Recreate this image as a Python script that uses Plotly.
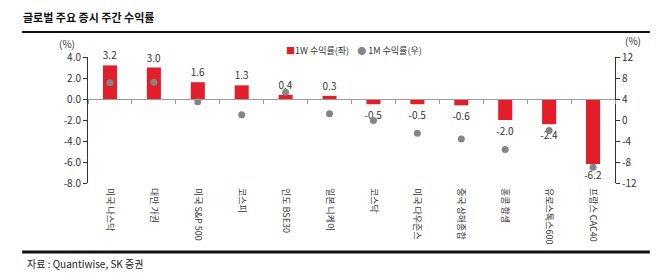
import plotly.graph_objects as go

categories = ["미국 나스닥", "대만 가권", "미국 S&P 500", "코스피", "인도 BSE30", "일본 니케이",
              "코스닥", "미국 다우존스", "중국 상해종합", "홍콩 항셍", "유로스톡스600", "프랑스 CAC40"]
ret_1w = [3.2, 3.0, 1.6, 1.3, 0.4, 0.3, -0.5, -0.5, -0.6, -2.0, -2.4, -6.2]
ret_1m = [7.1, 7.2, 3.5, 1.0, 5.3, 1.2, -0.1, -2.5, -3.6, -5.6, -2.0, -9.0]
left_ticks = [4, 2, 0, -2, -4, -6, -8]
right_ticks = [12, 8, 4, 0, -4, -8, -12]

FONT = "Noto Sans CJK KR"
RED = "#E31E2B"
GRAY = "#858585"
n = len(categories)

fig = go.Figure()
fig.add_trace(go.Bar(
    x=categories, y=ret_1w, name="1W 수익률(좌)",
    marker=dict(color=RED, line=dict(width=0)), width=0.32,
    text=[f"{v:.1f}" for v in ret_1w], textposition="outside", constraintext="none",
    textfont=dict(size=10, color="#333333", family=FONT), cliponaxis=False,
))
fig.add_trace(go.Scatter(
    x=categories, y=ret_1m, name="1M 수익률(우)", mode="markers",
    marker=dict(color=GRAY, size=7), xaxis="x2", yaxis="y2", cliponaxis=False,
))

fig.update_layout(
    width=670, height=279,
    margin=dict(l=88, r=55, t=57, b=96),
    paper_bgcolor="white", plot_bgcolor="white",
    font=dict(family=FONT, size=10, color="#333333"),
    showlegend=False,
    bargap=0.6,
    xaxis=dict(type="category", categoryorder="array", categoryarray=categories,
               range=[-0.5, n - 0.5],
               showline=False, ticks="", showgrid=False, zeroline=False,
               tickangle=90, ticklabelstandoff=4, tickfont=dict(size=9, color="#333333")),
    xaxis2=dict(type="category", categoryorder="array", categoryarray=categories,
                range=[-0.5, n - 0.5],
                overlaying="x", anchor="free", position=8/12,
                showline=True, linecolor="#9a9a9a", linewidth=1,
                ticks="outside", tickson="boundaries", ticklen=4, tickcolor="#9a9a9a",
                showticklabels=False, showgrid=False, zeroline=False),
    yaxis=dict(range=[-8, 4], tickvals=left_ticks,
               ticktext=[f"{v:.1f}" for v in left_ticks],
               showline=True, linecolor="#333333", linewidth=1,
               ticks="outside", ticklen=4, tickcolor="#333333",
               showgrid=False, zeroline=False, tickfont=dict(size=10)),
    yaxis2=dict(range=[-12, 12], tickvals=right_ticks,
                ticktext=[str(v) for v in right_ticks],
                overlaying="y", side="right",
                showline=True, linecolor="#333333", linewidth=1,
                ticks="outside", ticklen=4, tickcolor="#333333",
                showgrid=False, zeroline=False, tickfont=dict(size=10)),
)

# legend as text
fig.add_annotation(
    text=f"<span style='color:{RED}'>■</span>1W 수익률(좌)    <span style='color:{GRAY}'>●</span> 1M 수익률(우)",
    xref="paper", yref="paper", x=0.372, y=1.05, xanchor="left", yanchor="middle",
    showarrow=False, font=dict(size=9, color="#333333", family=FONT))
# title, unit labels, source
fig.add_annotation(text="<b>글로벌 주요 증시 주간 수익률</b>", xref="paper", yref="paper",
                   x=-0.127, y=1.32, xanchor="left", yanchor="middle", showarrow=False,
                   font=dict(size=11, color="#111111", family=FONT))
fig.add_annotation(text="(%)", xref="paper", yref="paper", x=-0.04, y=1.11,
                   xanchor="center", yanchor="middle", showarrow=False, font=dict(size=10))
fig.add_annotation(text="(%)", xref="paper", yref="paper", x=1.035, y=1.13,
                   xanchor="center", yanchor="middle", showarrow=False, font=dict(size=10))
fig.add_annotation(text="자료 : Quantiwise, SK 증권", xref="paper", yref="paper",
                   x=-0.12, y=-0.64, xanchor="left", yanchor="middle", showarrow=False,
                   font=dict(size=10, color="#222222", family=FONT))
fig.add_shape(type="line", xref="paper", yref="paper", x0=-0.125, x1=1.066, y0=1.198, y1=1.198,
              line=dict(color="#111111", width=2))
fig.add_shape(type="line", xref="paper", yref="paper", x0=-0.125, x1=1.066, y0=-0.548, y1=-0.548,
              line=dict(color="#111111", width=3))

fig.write_html("out.html")
